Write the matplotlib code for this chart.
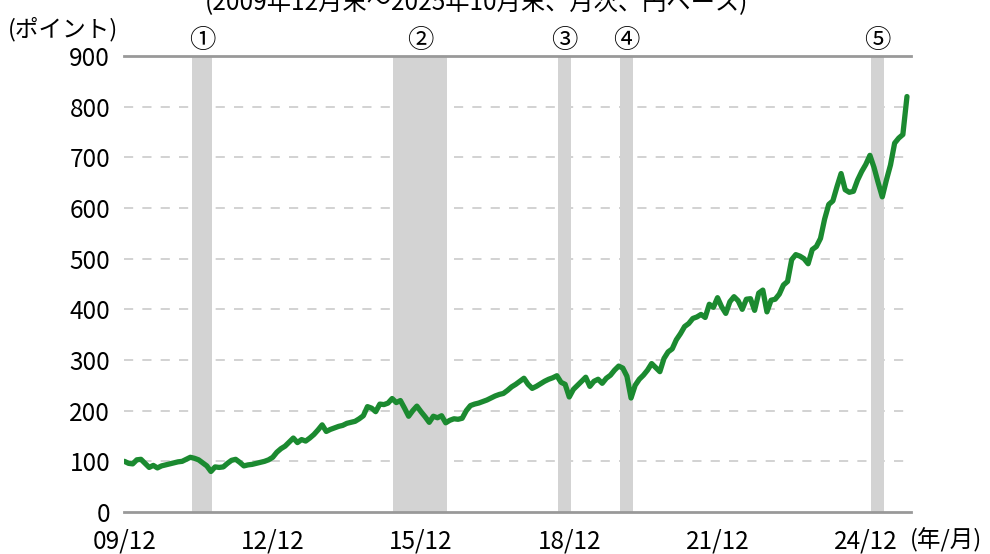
import matplotlib
matplotlib.use("Agg")
import matplotlib.pyplot as plt
import matplotlib.transforms as mtransforms
import pandas as pd

plt.rcParams['font.family'] = ['Noto Sans CJK JP', 'DejaVu Sans']

# month-end index values, 2009/12 .. 2025/10
months = pd.period_range('2009-12', '2025-10', freq='M')
values = [
    100, 96, 95, 103, 104, 96, 88, 92, 87, 91, 93, 95,          # 09/12-10/11
    97, 99, 100, 104, 108, 106, 103, 97, 91, 80, 89, 88,        # 10/12-11/11
    89, 96, 102, 104, 98, 91, 93, 94, 96, 98, 100, 103,         # 11/12-12/11
    108, 118, 125, 130, 138, 146, 137, 143, 140, 146, 153, 162,  # 12/12-13/11
    172, 159, 163, 166, 169, 171, 175, 177, 179, 184, 190, 208,  # 13/12-14/11
    205, 198, 213, 212, 215, 224, 216, 220, 205, 189, 200, 209,  # 14/12-15/11
    198, 188, 177, 189, 186, 190, 176, 181, 184, 183, 185, 200,  # 15/12-16/11
    210, 213, 215, 218, 221, 225, 229, 232, 234, 240, 247, 252,  # 16/12-17/11
    258, 264, 252, 244, 248, 253, 258, 262, 265, 269, 256, 252,  # 17/12-18/11
    227, 242, 250, 258, 266, 248, 258, 262, 254, 264, 270, 280,  # 18/12-19/11
    288, 284, 268, 225, 250, 262, 270, 280, 293, 285, 277, 303,  # 19/12-20/11
    316, 322, 340, 352, 366, 372, 382, 385, 390, 384, 410, 404,  # 20/12-21/11
    423, 405, 392, 415, 425, 417, 400, 420, 421, 398, 432, 438,  # 21/12-22/11
    395, 418, 420, 430, 448, 455, 498, 508, 505, 500, 490, 518,  # 22/12-23/11
    524, 540, 578, 607, 614, 642, 668, 636, 631, 633, 655, 672,  # 23/12-24/11
    686, 704, 680, 650, 622, 655, 685, 728, 738, 745, 820,       # 24/12-25/10
]

# shaded drawdown periods (month positions from 09/12)
band_labels = ['①', '②', '③', '④', '⑤']
band_start = [16.4, 65.2, 105.3, 120.4, 181.3]
band_end = [21.3, 78.3, 108.4, 123.5, 184.5]

tick_pos = [0, 36, 72, 108, 144, 180]
tick_labels = ['09/12', '12/12', '15/12', '18/12', '21/12', '24/12']
y_ticks = list(range(0, 1000, 100))

x = list(range(len(months)))

fig = plt.figure(figsize=(9.9, 5.54), dpi=100)
ax = fig.add_axes([0.1253, 0.0758, 0.7950, 0.8231])

for s, e in zip(band_start, band_end):
    ax.axvspan(s, e, color='#d3d3d3', lw=0, zorder=1)

for v in y_ticks[1:-1]:
    ax.axhline(v, color='#c6c6c6', lw=1.1, ls=(0, (6, 6)), zorder=0.5)

ax.plot(x, values, color='#1b8a30', lw=3.8, solid_joinstyle='round',
        solid_capstyle='round', zorder=3)

ax.set_xlim(-0.1, 191)
ax.set_ylim(0, 900)
ax.set_yticks(y_ticks)
ax.set_yticklabels([str(v) for v in y_ticks])
ax.set_xticks(tick_pos)
ax.set_xticklabels(tick_labels)
ax.tick_params(axis='both', length=0, labelsize=17.5, colors='black')
ax.tick_params(axis='y', pad=10)
ax.tick_params(axis='x', pad=12)

for side in ['left', 'right']:
    ax.spines[side].set_visible(False)
for side in ['top', 'bottom']:
    ax.spines[side].set_color('#999999')
    ax.spines[side].set_linewidth(2)

trans = mtransforms.blended_transform_factory(ax.transData, ax.transAxes)
for lab, s, e in zip(band_labels, band_start, band_end):
    ax.text((s + e) / 2, 1.035, lab, transform=trans, ha='center', va='center',
            fontsize=19)

fig.text(0.008, 0.935, '(ポイント)', ha='left', va='baseline', fontsize=17)
fig.text(0.919, 0.0252, '(年/月)', ha='left', va='center', fontsize=17)
fig.text(0.481, 0.982, '(2009年12月末～2025年10月末、月次、円ベース)',
         ha='center', va='baseline', fontsize=17.5)

fig.savefig('out.png', dpi=100)
